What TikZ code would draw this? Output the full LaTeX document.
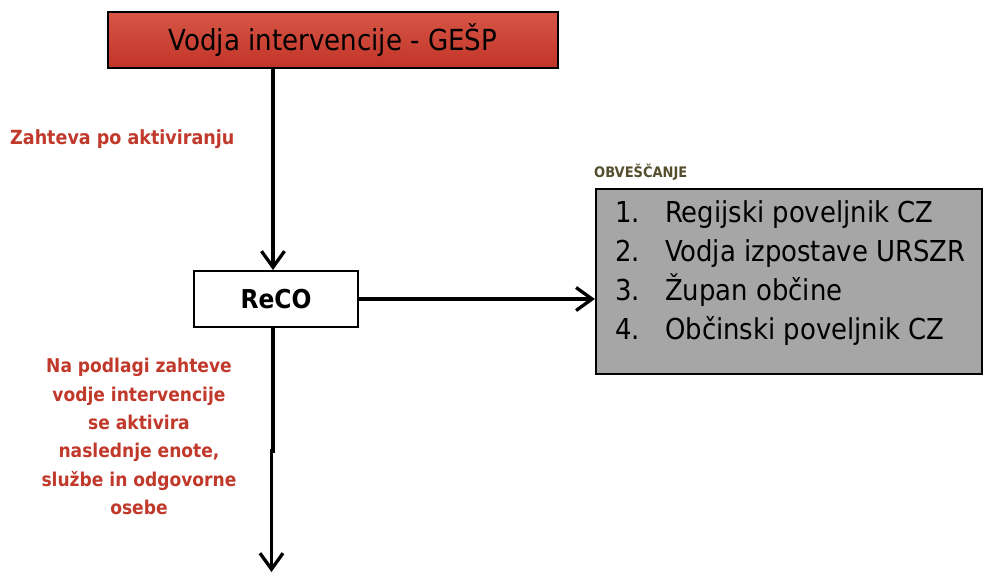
\documentclass[tikz,border=0pt]{standalone}
\usepackage{fontspec}
\setmainfont{DejaVu Sans Condensed}
\usetikzlibrary{arrows.meta}
\definecolor{redtxt}{RGB}{192,57,43}
\definecolor{redtop}{RGB}{214,86,70}
\definecolor{redbot}{RGB}{194,52,40}
\definecolor{listgray}{RGB}{166,166,166}
\definecolor{olive}{RGB}{84,78,44}
\begin{document}
\begin{tikzpicture}[x=1pt,y=-1pt,
  conn/.style={line width=3.3pt, -{Straight Barb[length=16pt,width=23pt,line width=3.3pt]}},
  boxtxt/.style={font=\fontsize{29}{34}\selectfont},
  redlabel/.style={text=redtxt, font=\bfseries\fontsize{19}{28.3}\selectfont, align=center},
  listtxt/.style={anchor=base west, inner sep=0pt, font=\fontsize{28.8}{32}\selectfont}]
\useasboundingbox (0,0) rectangle (983,574);
\node[draw, line width=2.5pt, top color=redtop, bottom color=redbot,
  minimum width=450pt, minimum height=56pt, inner sep=0pt, boxtxt] (vodja) at (333,40) {Vodja intervencije - GEŠP};
\node[draw, line width=2pt, fill=white, minimum width=164pt, minimum height=56pt, inner sep=0pt,
  font=\bfseries\fontsize{26}{30}\selectfont] (reco) at (276,299) {ReCO};
\node[draw, line width=2.2pt, fill=listgray, minimum width=386pt, minimum height=185pt, inner sep=0pt] (list) at (789,281.5) {};
\coordinate (axis) at (273,0);
\coordinate (axislow) at (271.5,0);
\coordinate (jog) at (0,451);
\coordinate (end) at (271.5,572);
\draw[conn] (vodja.south -| axis) -- (reco.north -| axis);
\draw[conn] (reco.east) -- (reco.east -| list.west);
\draw[conn] (reco.south -| axis) -- (axis |- jog) -- (axislow |- jog) -- (end);
\node[text=redtxt, font=\bfseries\fontsize{19.5}{22}\selectfont, anchor=base west, inner sep=0pt] (zahteva) at (10,144) {Zahteva po aktiviranju};
\node[redlabel, anchor=north] (podlagi) at (139,355) {Na podlagi zahteve\\vodje intervencije\\se aktivira\\naslednje enote,\\službe in odgovorne\\osebe};
\node[text=olive, font=\bfseries\fontsize{14.5}{16}\selectfont, anchor=base west, inner sep=0pt] (obv) at (594,177) {OBVEŠČANJE};
\node[listtxt] (n1) at (615,222) {1.};
\node[listtxt] (t1) at (665,222) {Regijski poveljnik CZ};
\node[listtxt] (n2) at (615,261) {2.};
\node[listtxt] (t2) at (665,261) {Vodja izpostave URSZR};
\node[listtxt] (n3) at (615,300) {3.};
\node[listtxt] (t3) at (665,300) {Župan občine};
\node[listtxt] (n4) at (615,339) {4.};
\node[listtxt] (t4) at (665,339) {Občinski poveljnik CZ};
\end{tikzpicture}
\end{document}
